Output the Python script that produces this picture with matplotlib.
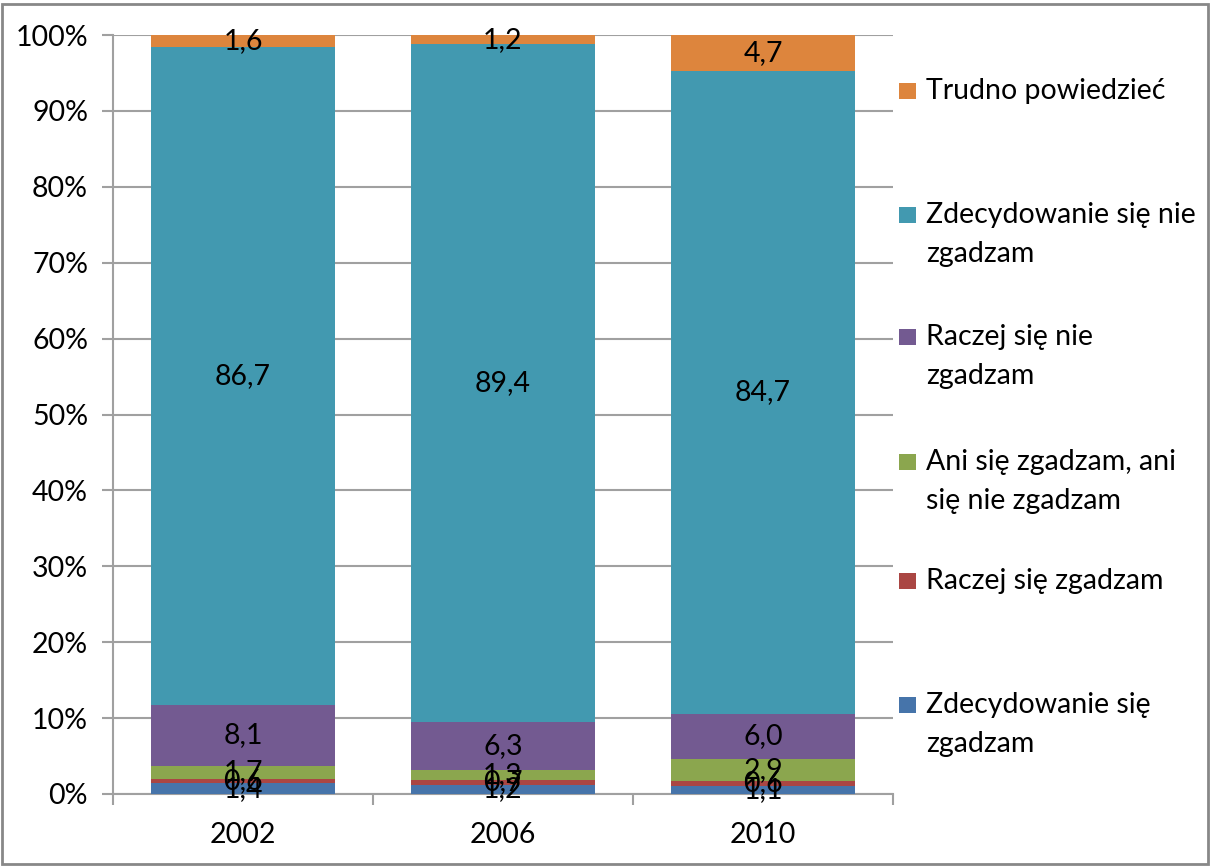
import matplotlib.pyplot as plt
from matplotlib.patches import Rectangle
import numpy as np

# data
years = ['2002', '2006', '2010']
zdec_tak = [1.4, 1.2, 1.1]
raczej_tak = [0.6, 0.7, 0.6]
ani = [1.7, 1.3, 2.9]
raczej_nie = [8.1, 6.3, 6.0]
zdec_nie = [86.7, 89.4, 84.7]
trudno = [1.6, 1.2, 4.7]

series = [zdec_tak, raczej_tak, ani, raczej_nie, zdec_nie, trudno]
labels = ['Zdecydowanie się\nzgadzam', 'Raczej się zgadzam',
          'Ani się zgadzam, ani\nsię nie zgadzam', 'Raczej się nie\nzgadzam',
          'Zdecydowanie się nie\nzgadzam', 'Trudno powiedzieć']
colors = ['#4674AA', '#AA4643', '#8BA64E', '#735A91', '#4299B0', '#DD853D']

plt.rcParams['font.family'] = ['Lato', 'DejaVu Sans']
FS = 20.5

W, H = 1212, 868
fig = plt.figure(figsize=(W / 100, H / 100), dpi=100)
ax = fig.add_axes([113 / W, 1 - 794 / H, 780 / W, (794 - 35) / H])

x = np.arange(len(years))
data = np.array(series, dtype=float)
totals = data.sum(axis=0)
pct = data / totals * 100

bottom = np.zeros(len(years))
for vals, p, c in zip(series, pct, colors):
    ax.bar(x, p, bottom=bottom, width=0.71, color=c, zorder=3)
    for xi, v, b, h in zip(x, vals, bottom, p):
        ax.text(xi, b + h / 2, f"{v:.1f}".replace('.', ','), ha='center', va='center',
                fontsize=FS, color='black', zorder=4)
    bottom += p

ax.set_xlim(-0.5, 2.5)
ax.set_ylim(0, 100)
ax.set_yticks(np.arange(0, 101, 10))
ax.set_yticklabels([f"{t}%" for t in range(0, 101, 10)], fontsize=FS)
ax.set_xticks(x)
ax.set_xticklabels(years, fontsize=FS)
ax.set_xticks([-0.5, 0.5, 1.5, 2.5], minor=True)
ax.tick_params(axis='x', which='major', length=0, pad=20)
ax.tick_params(axis='x', which='minor', length=8, width=1.5, color='#A0A0A0', direction='out')
ax.tick_params(axis='y', length=8, width=1.5, color='#A0A0A0', pad=10)
ax.yaxis.grid(True, color='#A0A0A0', linewidth=1.5, zorder=0)
ax.set_axisbelow(True)
for s in ['top', 'right']:
    ax.spines[s].set_visible(False)
for s in ['left', 'bottom']:
    ax.spines[s].set_color('#A0A0A0')
    ax.spines[s].set_linewidth(1.5)

# legend, drawn by hand to follow the uneven spacing of the original
leg_y = [705, 581, 462, 337, 215, 91]
for lab, c, yy in zip(labels, colors, leg_y):
    fig.patches.append(Rectangle((899 / W, 1 - (yy + 8) / H), 17 / W, 16 / H,
                                 transform=fig.transFigure, facecolor=c, edgecolor='none'))
    for i, line in enumerate(lab.split('\n')):
        fig.text(926 / W, 1 - (yy + i * 39) / H, line, fontsize=FS, va='center', ha='left')

# outer frame
fig.patches.append(Rectangle((2 / W, 4 / H), (W - 6) / W, (H - 8) / H,
                             transform=fig.transFigure, fill=False,
                             edgecolor='#888888', linewidth=2))

fig.savefig('out.png', dpi=100)
